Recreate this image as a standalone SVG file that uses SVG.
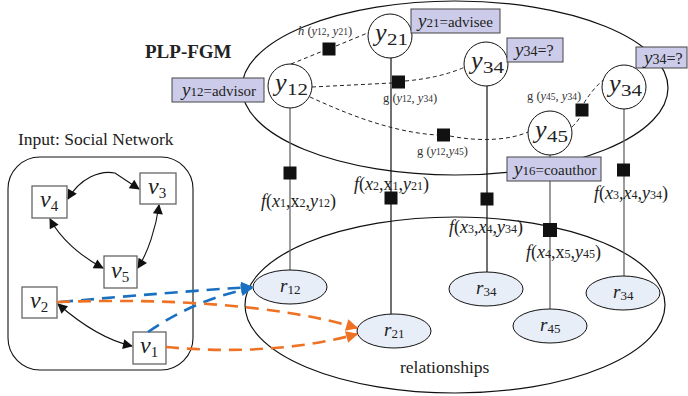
<svg xmlns="http://www.w3.org/2000/svg" width="688" height="396" viewBox="0 0 688 396">
<defs>
<marker id="ak" viewBox="0 0 10 10" refX="9" refY="5" markerWidth="12" markerHeight="10" markerUnits="userSpaceOnUse" orient="auto-start-reverse"><path d="M0,0 L10,5 L0,10 z" fill="#111"/></marker>
<marker id="ao" viewBox="0 0 10 10" refX="9" refY="5" markerWidth="15" markerHeight="12" markerUnits="userSpaceOnUse" orient="auto"><path d="M0,0 L10,5 L0,10 z" fill="#ee7124"/></marker>
<marker id="ab" viewBox="0 0 10 10" refX="9" refY="5" markerWidth="15" markerHeight="12" markerUnits="userSpaceOnUse" orient="auto"><path d="M0,0 L10,5 L0,10 z" fill="#1a70c0"/></marker>
</defs>
<style>
text{font-family:"Liberation Serif","Times New Roman",serif;fill:#222}
.big{fill:none;stroke:#111;stroke-width:1.2}
.yn{fill:#fff;stroke:#111;stroke-width:1}
.lbl{fill:#ccccea;stroke:#444;stroke-width:1}
.rn{fill:#e8eef8;stroke:#111;stroke-width:1}
.fac{fill:#111}
.vl{stroke:#666;stroke-width:1.3}
.vlb{stroke:#111;stroke-width:1.2}
.dsh{fill:none;stroke:#222;stroke-width:1;stroke-dasharray:4 3}
.net{fill:none;stroke:#111;stroke-width:1.1}
.vbox{fill:#fff;stroke:#666;stroke-width:1.3}
.or{fill:none;stroke:#ee7124;stroke-width:2.6;stroke-dasharray:13 8}
.bl{fill:none;stroke:#1a70c0;stroke-width:2.6;stroke-dasharray:13 8}
.yl{font-size:26px;font-style:italic}
.ys{font-size:17px}
.it{font-style:italic}
.sm{font-size:12.5px;fill:#333}
.fl{font-size:18px}
.bx{font-size:15px}
.rl{font-size:19px;font-style:italic}
.rs{font-size:13px}
.vt{font-size:24px;font-style:italic}
.vs{font-size:15px}
</style>

<!-- container ellipses -->
<g id="fgm-ellipse"><ellipse class="big" cx="455" cy="88" rx="213" ry="87"/></g>
<g id="relationships-ellipse"><ellipse class="big" cx="455" cy="305" rx="210" ry="88"/>
<text x="400" y="373" font-size="17.5">relationships</text></g>
<text x="145" y="58" font-size="19" font-weight="bold">PLP-FGM</text>

<!-- connectors -->
<g id="connectors">
<line class="vl" x1="290" y1="108" x2="290" y2="270"/>
<line class="vlb" x1="391" y1="58" x2="391" y2="314"/>
<line class="vlb" x1="487" y1="86" x2="487" y2="272"/>
<line class="vl" x1="550" y1="155" x2="550" y2="309"/>
<line class="vl" x1="624" y1="109" x2="624" y2="276"/>
<path class="dsh" d="M291 64 L323 51"/>
<path class="dsh" d="M336 46 L370 32"/>
<path class="dsh" d="M312 87 L392 83"/>
<path class="dsh" d="M405 81 Q440 78 465 67"/>
<path class="dsh" d="M310 97 C345 113 390 132 437 135"/>
<path class="dsh" d="M450 136 C480 142 510 140 528 132"/>
<path class="dsh" d="M572 127 Q578 121 580 117"/>
<path class="dsh" d="M584 103 Q592 90 603 80"/>
</g>

<!-- factor nodes -->
<g id="factors">
<rect class="fac" x="322.5" y="42.5" width="13" height="13"/>
<rect class="fac" x="392" y="75.5" width="13" height="13"/>
<rect class="fac" x="437" y="128.5" width="13" height="13"/>
<rect class="fac" x="575.5" y="103.5" width="13" height="13"/>
<rect class="fac" x="283.5" y="166.5" width="13" height="13"/>
<rect class="fac" x="384.5" y="191.5" width="13" height="13"/>
<rect class="fac" x="480.5" y="192.5" width="13" height="13"/>
<rect class="fac" x="543" y="223" width="14" height="14"/>
<rect class="fac" x="617" y="163.5" width="13" height="13"/>
</g>

<!-- factor labels -->
<g id="factor-labels">
<text class="sm" x="298" y="35"><tspan class="it">h</tspan> (<tspan class="it">y</tspan><tspan font-size="9.5">12</tspan>, <tspan class="it">y</tspan><tspan font-size="9.5">21</tspan>)</text>
<text class="sm" x="383" y="102">g (<tspan class="it">y</tspan><tspan font-size="9.5">12</tspan>, <tspan class="it">y</tspan><tspan font-size="9.5">34</tspan>)</text>
<text class="sm" x="417" y="155">g (<tspan class="it">y</tspan><tspan font-size="9.5">12</tspan>,<tspan class="it">y</tspan><tspan font-size="9.5">45</tspan>)</text>
<text class="sm" x="527" y="100">g (<tspan class="it">y</tspan><tspan font-size="9.5">45</tspan>, <tspan class="it">y</tspan><tspan font-size="9.5">34</tspan>)</text>
<text class="fl" x="261" y="207"><tspan class="it">f</tspan>(<tspan class="it">x</tspan><tspan font-size="12">1</tspan>,x<tspan font-size="12">2</tspan>,<tspan class="it">y</tspan><tspan font-size="12">12</tspan>)</text>
<text class="fl" x="354" y="190"><tspan class="it">f</tspan>(<tspan class="it">x</tspan><tspan font-size="12">2</tspan>,x<tspan font-size="12">1</tspan>,<tspan class="it">y</tspan><tspan font-size="12">21</tspan>)</text>
<text class="fl" x="449" y="233"><tspan class="it">f</tspan>(<tspan class="it">x</tspan><tspan font-size="12">3</tspan>,<tspan class="it">x</tspan><tspan font-size="12">4</tspan>,<tspan class="it">y</tspan><tspan font-size="12">34</tspan>)</text>
<text class="fl" x="526" y="258"><tspan class="it">f</tspan>(<tspan class="it">x</tspan><tspan font-size="12">4</tspan>,x<tspan font-size="12">5</tspan>,<tspan class="it">y</tspan><tspan font-size="12">45</tspan>)</text>
<text class="fl" x="594" y="199"><tspan class="it">f</tspan>(<tspan class="it">x</tspan><tspan font-size="12">3</tspan>,<tspan class="it">x</tspan><tspan font-size="12">4</tspan>,<tspan class="it">y</tspan><tspan font-size="12">34</tspan>)</text>
</g>

<!-- variable nodes -->
<g id="y12"><circle class="yn" cx="290" cy="86" r="22"/>
<text class="yl" x="275" y="91">y</text><text class="ys" x="287" y="95" textLength="21" lengthAdjust="spacingAndGlyphs">12</text></g>
<g id="y21"><circle class="yn" cx="390" cy="36" r="22"/>
<text class="yl" x="375" y="41">y</text><text class="ys" x="387" y="45" textLength="21" lengthAdjust="spacingAndGlyphs">21</text></g>
<g id="y34a"><circle class="yn" cx="486" cy="64" r="22"/>
<text class="yl" x="471" y="69">y</text><text class="ys" x="483" y="73" textLength="21" lengthAdjust="spacingAndGlyphs">34</text></g>
<g id="y34b"><circle class="yn" cx="624" cy="87" r="22"/>
<text class="yl" x="609" y="92">y</text><text class="ys" x="621" y="96" textLength="21" lengthAdjust="spacingAndGlyphs">34</text></g>
<g id="y45"><circle class="yn" cx="550" cy="133" r="22"/>
<text class="yl" x="535" y="138">y</text><text class="ys" x="547" y="142" textLength="21" lengthAdjust="spacingAndGlyphs">45</text></g>

<!-- label boxes -->
<g id="lbl-y12"><rect class="lbl" x="172" y="78" width="92" height="24"/>
<text x="182" y="96"><tspan class="it" font-size="19">y</tspan><tspan font-size="13">12</tspan><tspan class="bx">=advisor</tspan></text></g>
<g id="lbl-y21"><rect class="lbl" x="411" y="9" width="89" height="24"/>
<text x="418" y="27"><tspan class="it" font-size="19">y</tspan><tspan font-size="13">21</tspan><tspan class="bx">=advisee</tspan></text></g>
<g id="lbl-y34a"><rect class="lbl" x="507" y="38" width="56" height="24"/>
<text x="515" y="56"><tspan class="it" font-size="19">y</tspan><tspan font-size="14">34</tspan><tspan font-size="16">=?</tspan></text></g>
<g id="lbl-y34b"><rect class="lbl" x="636" y="47" width="51" height="21"/>
<text x="644" y="64"><tspan class="it" font-size="19">y</tspan><tspan font-size="14">34</tspan><tspan font-size="16">=?</tspan></text></g>
<g id="lbl-y16"><rect class="lbl" x="507" y="157" width="94" height="24"/>
<text x="514" y="175"><tspan class="it" font-size="19">y</tspan><tspan font-size="13">16</tspan><tspan class="bx">=coauthor</tspan></text></g>

<!-- relationship nodes -->
<g id="r12"><ellipse class="rn" cx="290" cy="287" rx="37" ry="17"/><text x="280" y="292"><tspan class="rl">r</tspan><tspan class="rs" dy="2">12</tspan></text></g>
<g id="r21"><ellipse class="rn" cx="394" cy="331" rx="37" ry="17"/><text x="384" y="336"><tspan class="rl">r</tspan><tspan class="rs" dy="2">21</tspan></text></g>
<g id="r34a"><ellipse class="rn" cx="486" cy="289" rx="37" ry="17"/><text x="476" y="294"><tspan class="rl">r</tspan><tspan class="rs" dy="2">34</tspan></text></g>
<g id="r45"><ellipse class="rn" cx="550" cy="326" rx="37" ry="17"/><text x="540" y="331"><tspan class="rl">r</tspan><tspan class="rs" dy="2">45</tspan></text></g>
<g id="r34b"><ellipse class="rn" cx="623" cy="293" rx="37" ry="17"/><text x="613" y="298"><tspan class="rl">r</tspan><tspan class="rs" dy="2">34</tspan></text></g>

<!-- input social network -->
<g id="network-box">
<text x="18" y="145" font-size="17.5">Input: Social Network</text>
<rect x="8" y="157" width="185" height="213" rx="32" ry="32" fill="none" stroke="#111" stroke-width="1.1"/>
</g>
<g id="net-edges">
<path class="net" d="M68 199 C80 178 100 170 115 173 L139 189" marker-start="url(#ak)" marker-end="url(#ak)"/>
<path class="net" d="M50 219 C60 238 80 256 103 268" marker-start="url(#ak)" marker-end="url(#ak)"/>
<path class="net" d="M159 205 C156 228 148 252 138 268" marker-start="url(#ak)" marker-end="url(#ak)"/>
<path class="net" d="M58 304 C82 325 105 340 132 346" marker-start="url(#ak)" marker-end="url(#ak)"/>
</g>
<g id="v4"><rect class="vbox" x="32" y="186" width="35" height="32"/><text x="40" y="207"><tspan class="vt">v</tspan><tspan class="vs" dy="4">4</tspan></text></g>
<g id="v3"><rect class="vbox" x="140" y="173" width="36" height="31"/><text x="148" y="194"><tspan class="vt">v</tspan><tspan class="vs" dy="4">3</tspan></text></g>
<g id="v5"><rect class="vbox" x="104" y="256" width="33" height="32"/><text x="111" y="278"><tspan class="vt">v</tspan><tspan class="vs" dy="4">5</tspan></text></g>
<g id="v2"><rect class="vbox" x="22" y="287" width="35" height="31"/><text x="30" y="308"><tspan class="vt">v</tspan><tspan class="vs" dy="4">2</tspan></text></g>
<g id="v1"><rect class="vbox" x="133" y="332" width="33" height="32"/><text x="140" y="353"><tspan class="vt">v</tspan><tspan class="vs" dy="4">1</tspan></text></g>

<!-- mapping arrows -->
<g id="mapping">
<path class="bl" d="M60 302 C130 296 200 290 252 287" marker-end="url(#ab)"/>
<path class="bl" d="M148 332 C180 310 215 295 252 288" marker-end="url(#ab)"/>
<path class="or" d="M57 302 C170 298 280 305 357 328" marker-end="url(#ao)"/>
<path class="or" d="M166 347 C230 353 300 350 357 334" marker-end="url(#ao)"/>
</g>
</svg>
